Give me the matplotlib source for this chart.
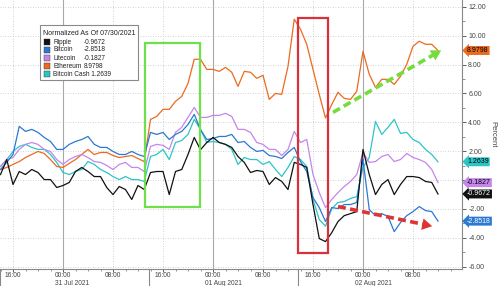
import numpy as np
import matplotlib.pyplot as plt
import matplotlib.transforms as mtransforms
from matplotlib.patches import Rectangle

plt.rcParams['font.family'] = ['Liberation Sans', 'DejaVu Sans']

# hours since 30 Jul 2021 00:00, one reading per hour
hours = np.arange(14, 85)

ripple = [0.38, 1.42, -0.31, 0.59, 0.38, 0.73, 0.52, 0.03, 0.03, -0.52,
          -0.38, -0.17, 0.59, 0.87, 0.59, 0.24, 0.24, -0.52, -1.01, -0.45,
          -0.66, -1.35, -0.38, -0.66, 0.52, 0.59, 0.59, -1.01, 0.59, 0.73,
          1.77, 2.95, 2.1, 2.6, 2.95, 2.6, 2.47, 2.26, 1.63, 1.22,
          0.52, 0.66, 0.59, -0.31, 0.17, -0.1, -0.66, 1.22, 1.08, 0.87,
          -1.7, -4.06, -4.27, -3.65, -2.88, -2.47, -2.33, -2.19, 2.12, 0.38,
          -1.01, -0.31, 0.03, -1.01, -0.31, 0.24, 0.24, 0.17, -0.1, -0.17,
          -0.97]

bitcoin = [0.73, 1.22, 1.77, 3.72, 3.37, 3.51, 3.3, 2.95, 2.67, 2.12,
           2.12, 2.47, 2.67, 2.81, 3.02, 2.47, 2.26, 2.26, 1.98, 1.77,
           1.77, 1.98, 1.77, 1.63, 3.3, 3.16, 3.3, 2.81, 3.16, 3.37,
           3.85, 4.55, 3.5, 2.81, 2.88, 3.02, 3.02, 3.16, 2.6, 2.67,
           2.26, 1.98, 2.05, 1.7, 1.63, 1.49, 1.91, 2.26, 1.28, 0.59,
           -1.22, -1.91, -2.88, -1.91, -1.98, -1.7, -1.7, -1.56, 1.42, -2.05,
           -2.47, -2.33, -2.53, -3.58, -2.95, -2.47, -2.19, -1.84, -2.12, -2.19,
           -2.85]

litecoin = [0.94, 1.42, 1.56, 2.12, 2.47, 2.6, 2.47, 2.12, 1.98, 1.42,
            1.08, 1.42, 1.63, 1.77, 1.56, 1.28, 1.22, 1.01, 0.73, 1.08,
            1.22, 0.87, 0.87, 0.59, 2.33, 2.47, 2.4, 2.12, 3.3, 3.65,
            4.34, 5.03, 4.34, 4.34, 4.48, 4.48, 4.62, 4.41, 3.51, 3.51,
            3.3, 2.6, 2.47, 2.12, 2.12, 1.7, 2.12, 3.37, 2.6, 2.81,
            0.38, -0.87, -1.91, -1.35, -0.87, -0.45, -0.1, 0.38, 1.91, 1.22,
            1.28, 1.63, 1.77, 1.28, 1.42, 1.84, 1.56, 1.42, 1.22, 0.73,
            -0.18]

ethereum = [0.73, 0.87, 1.08, 1.28, 1.56, 1.77, 1.98, 1.84, 1.42, 0.94,
            0.87, 1.15, 1.42, 1.77, 2.12, 1.77, 1.91, 1.91, 1.7, 1.56,
            1.63, 1.7, 1.49, 1.28, 4.2, 4.41, 4.9, 4.9, 5.45, 5.8,
            6.7, 8.37, 8.37, 7.67, 7.67, 7.53, 7.81, 7.47, 6.49, 7.53,
            7.47, 7.05, 7.26, 5.59, 6.0, 5.94, 7.88, 11.15, 10.45, 9.41,
            7.67, 5.94, 4.3, 5.24, 6.08, 5.66, 5.59, 6.15, 8.92, 7.33,
            6.42, 6.98, 6.98, 6.63, 7.19, 8.02, 9.27, 9.62, 9.41, 9.41,
            8.98]

bitcoin_cash = [0.94, 1.42, 1.98, 2.33, 2.47, 2.26, 2.12, 2.12, 1.77, 1.22,
                0.52, 0.38, 0.59, 0.73, 1.28, 1.08, 0.73, 0.52, 0.24, 0.03,
                0.24, 0.03, 0.03, -0.1, 1.63, 1.77, 2.12, 1.42, 2.6, 2.74,
                3.16, 4.2, 3.51, 2.6, 2.67, 2.6, 2.47, 2.12, 1.08, 1.56,
                1.42, 1.42, 1.08, 1.28, 0.73, 0.24, 0.87, 1.63, 1.42, 0.94,
                -1.35, -2.74, -3.2, -1.98, -1.56, -1.49, -1.28, -1.15, 0.87, 1.56,
                4.06, 3.16, 3.65, 4.2, 3.23, 3.3, 2.81, 2.6, 2.12, 1.77,
                1.26]

names = ["Ripple", "Bitcoin", "Litecoin", "Ethereum", "Bitcoin Cash"]
last_values = [-0.9672, -2.8518, -0.1827, 8.9798, 1.2639]
series = [ripple, bitcoin, litecoin, ethereum, bitcoin_cash]
colors = ["#111111", "#2b79d3", "#c586ea", "#ec6a1e", "#2cc5c6"]
tag_text = ["white", "white", "black", "black", "black"]

tick_hours = [16, 24, 32, 40, 48, 56, 64, 72, 80]
tick_labels = ["16:00", "00:00", "08:00"] * 3
day_hours = [24, 48, 72]
day_labels = ["31 Jul 2021", "01 Aug 2021", "02 Aug 2021"]

fig = plt.figure(figsize=(5, 2.86), dpi=100)
ax = fig.add_axes([0, 17 / 286, 462 / 500, 269 / 286])
ax.set_xlim(13.92, 87.84)
ax.set_ylim(-6.17, 12.48)

# grid
for y in range(-6, 13, 2):
    ax.axhline(y, color="#c4c4c4", lw=0.6, ls=(0, (1, 2)), zorder=0)
for h in tick_hours:
    if h % 24 == 0:
        ax.axvline(h, color="#a8a8a8", lw=0.8, zorder=0)
    else:
        ax.axvline(h, color="#c4c4c4", lw=0.6, ls=(0, (1, 2)), zorder=0)

# lines, ripple on top
for i in [4, 3, 2, 1, 0]:
    ax.plot(hours, series[i], color=colors[i], lw=0.9)

# highlight boxes and arrows
ax.add_patch(Rectangle((37.12, -1.84), 8.8, 11.32, fill=False,
                       ec="#6ee04a", lw=1.6, zorder=5))
ax.add_patch(Rectangle((61.6, -5.03), 4.8, 16.23, fill=False,
                       ec="#d9313c", lw=1.6, zorder=5))

ax.plot([67.2, 83.6], [4.69, 8.76], color="#74dc3c", lw=2.6,
        dashes=(2.2, 1.2), solid_capstyle="butt", zorder=6)
ax.annotate("", xy=(84.9, 9.08), xytext=(83.2, 8.66),
            arrowprops=dict(arrowstyle="-|>,head_width=0.35,head_length=0.6",
                            color="#74dc3c", lw=0, mutation_scale=12), zorder=6)
ax.plot([68.0, 82.2], [-1.84, -3.12], color="#e03434", lw=2.6,
        dashes=(2.2, 1.2), solid_capstyle="butt", zorder=6)
ax.annotate("", xy=(83.5, -3.24), xytext=(81.8, -3.09),
            arrowprops=dict(arrowstyle="-|>,head_width=0.35,head_length=0.6",
                            color="#e03434", lw=0, mutation_scale=12), zorder=6)

# axes
for s in ["top", "left"]:
    ax.spines[s].set_visible(False)
ax.spines["right"].set_color("#888888")
ax.spines["bottom"].set_color("#888888")
ax.yaxis.tick_right()
ax.set_yticks(range(-6, 13, 2))
# the 0.00 label sits under the value tags, so leave it blank
ax.set_yticklabels(["%.2f" % v if v != 0 else "" for v in range(-6, 13, 2)])
ax.set_yticks(range(-6, 13), minor=True)
ax.tick_params(axis="y", which="major", length=3, width=0.6, pad=1.5,
               labelsize=5, colors="#444444")
ax.tick_params(axis="y", which="minor", length=2, width=0.5, colors="#666666")
ax.yaxis.set_label_position("right")
ax.set_ylabel("Percent", rotation=270, fontsize=5.5, color="#444444",
              va="center")
ax.yaxis.set_label_coords(1.0 + 31 / 462, 0.5)

ax.set_xticks(tick_hours)
ax.set_xticklabels(tick_labels)
ax.set_xticks(range(14, 88, 2), minor=True)
ax.tick_params(axis="x", which="major", length=2, width=0.6, pad=0.3,
               labelsize=4.8, colors="#444444")
ax.tick_params(axis="x", which="minor", length=1.3, width=0.5, colors="#666666")

trans = mtransforms.blended_transform_factory(ax.transData, ax.transAxes)
for h, lab in zip(day_hours, day_labels):
    ax.text(h - 1.3, -0.041, lab, transform=trans, fontsize=4.8, color="#444444",
            ha="left", va="top")
for h in [13.95, 37.76, 61.6]:
    ax.plot([h, h], [0, -0.07], transform=trans, color="#888888", lw=0.8,
            clip_on=False)

# value tags at the right edge
ytrans = mtransforms.blended_transform_factory(ax.transAxes, ax.transData)
for i in range(5):
    ax.text(1.0 + 5 / 462, last_values[i], "%.4f" % last_values[i],
            transform=ytrans, fontsize=5, color=tag_text[i], ha="left",
            va="center", clip_on=False, zorder=10,
            bbox=dict(boxstyle="larrow,pad=0.14", fc=colors[i], ec="none"))


# legend drawn by hand
def axp(px, py):
    return px / 462, 1 - py / 269


ax.add_patch(Rectangle(axp(40, 80), 98 / 462, 55 / 269, transform=ax.transAxes,
                       fc="white", ec="#8a8a8a", lw=0.8, zorder=8))
ax.text(*axp(43, 33), "Normalized As Of 07/30/2021", transform=ax.transAxes,
        fontsize=5, color="#222222", va="center", zorder=9)
for i in range(5):
    py = 42 + 8 * i
    ax.add_patch(Rectangle(axp(44, py + 2.7), 5.5 / 462, 5.5 / 269,
                           transform=ax.transAxes, fc=colors[i], ec="#333333",
                           lw=0.3, zorder=9))
    if i == 4:
        label = names[i] + " %.4f" % last_values[i]
    else:
        label = names[i]
        ax.text(*axp(84, py), "%.4f" % last_values[i], transform=ax.transAxes,
                fontsize=4.7, color="#222222", va="center", zorder=9)
    ax.text(*axp(53, py), label, transform=ax.transAxes, fontsize=4.7,
            color="#222222", va="center", zorder=9)

fig.savefig("out.png", dpi=100)
